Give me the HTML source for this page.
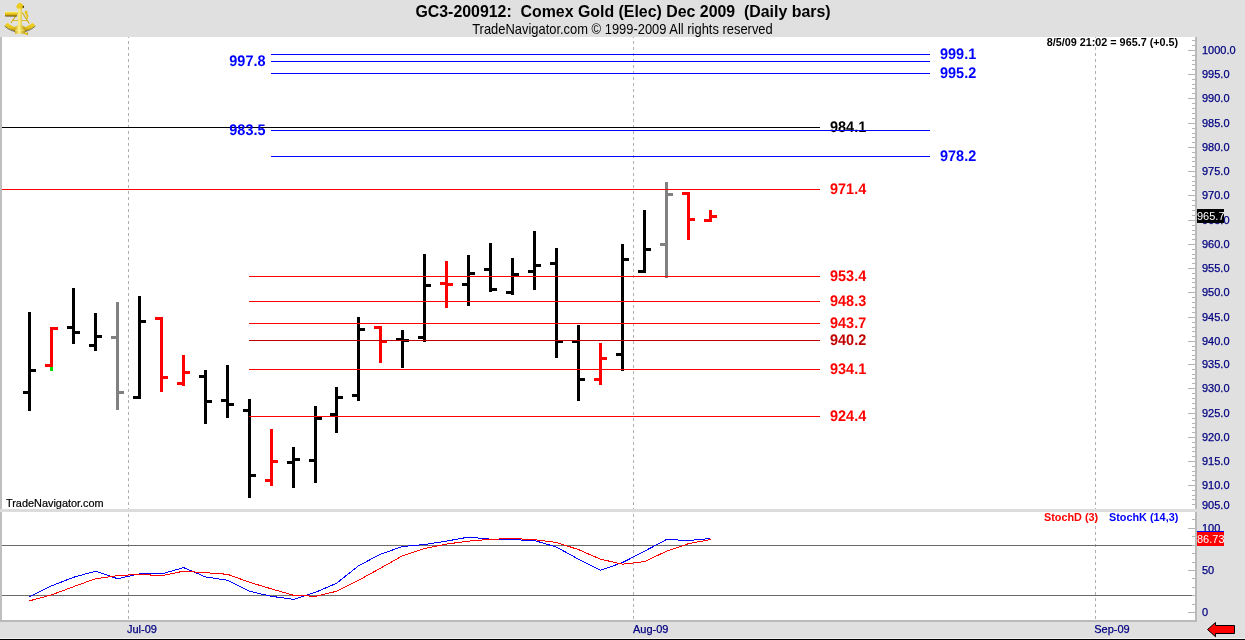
<!DOCTYPE html>
<html><head><meta charset="utf-8"><title>GC3-200912 Comex Gold</title>
<style>
html,body{margin:0;padding:0}
body{width:1245px;height:640px;overflow:hidden;background:#e0e0e0;position:relative;font-family:"Liberation Sans",sans-serif;}
.abs{position:absolute}
#main{position:absolute;left:0;top:37px;width:1195px;height:472px;background:#fff}
#sto{position:absolute;left:0;top:512px;width:1195px;height:108px;background:#fff}
#lb1{position:absolute;left:0;top:37px;width:2px;height:472px;background:#bebebe}
#lb2{position:absolute;left:0;top:512px;width:2px;height:110px;background:#bebebe}
#rb{position:absolute;left:1195px;top:37px;width:2px;height:585px;background:#bababa}
#bb{position:absolute;left:0;top:620px;width:1197px;height:2px;background:#bababa}
#sep{position:absolute;left:0;top:509px;width:1197px;height:3px;background:#dcdcdc;z-index:2}
#blk{position:absolute;left:0;top:638px;width:1245px;height:1px;background:#f2f2f2;border-bottom:1px solid #000}
#g{position:absolute;left:0;top:0}
.title{position:absolute;left:0;width:1245px;text-align:center;white-space:pre;color:#000}
#t1{top:2px;left:0.5px;font-weight:bold;font-size:15.9px;line-height:20px}
#t2{top:21px;font-size:13.9px;line-height:16px;transform:scaleX(.93);transform-origin:622px center}
.ax{position:absolute;left:1202px;font-size:11px;line-height:14px;color:#000080;white-space:nowrap;-webkit-text-stroke:0.25px #000080}
.ll{position:absolute;font-weight:bold;font-size:15.4px;line-height:18px;white-space:nowrap;text-rendering:geometricPrecision;transform:scaleX(.94);transform-origin:left center}
.ll.r{transform-origin:right center}
.sm{position:absolute;font-weight:bold;font-size:10.85px;line-height:12px;white-space:nowrap}
.mo{position:absolute;font-size:11px;line-height:14px;color:#000080;top:622px;-webkit-text-stroke:0.25px #000080}
.box{position:absolute;left:1197px;width:27px;color:#fff;font-size:11px;line-height:14px;height:14px;white-space:nowrap;overflow:hidden}
.logo{position:absolute;left:0;top:0}
</style></head><body>
<div id="main"></div><div id="sto"></div>
<div id="lb1"></div><div id="lb2"></div><div id="sep"></div><div id="rb"></div><div id="bb"></div><div id="blk"></div>
<svg class="logo" width="44" height="37" viewBox="0 0 44 37">
<defs><linearGradient id="tg" x1="0" y1="0" x2="0" y2="1"><stop offset="0" stop-color="#fffbc0"/><stop offset=".25" stop-color="#f4d92e"/><stop offset=".65" stop-color="#d6b012"/><stop offset="1" stop-color="#4e3a00"/></linearGradient>
<linearGradient id="ag" x1="0" y1="0" x2="1" y2="0"><stop offset="0" stop-color="#cfa80e"/><stop offset=".4" stop-color="#fff48c"/><stop offset="1" stop-color="#bd9706"/></linearGradient>
<linearGradient id="rg" x1="0" y1="0" x2="0" y2="1"><stop offset="0" stop-color="#f3d62c"/><stop offset=".6" stop-color="#e4c01a"/><stop offset="1" stop-color="#7c5f00"/></linearGradient></defs>
<g stroke="#d4b010" stroke-width="1.2" fill="none"><path d="M17.6 13 L11 23 M22.2 12.5 L29.3 23.5 M12.3 20.8 H27.4"/></g>
<path d="M12.5 21.8 H27" stroke="#f4f4ff" stroke-width=".8" fill="none"/>
<path d="M4.4 25.4 A22.3 22.3 0 0 0 35.6 25.4 L32.4 22.7 A18.3 18.3 0 0 1 7.6 22.7Z" fill="url(#rg)"/>
<path d="M4.8 26.2 A22.3 22.3 0 0 0 35.2 26.2" stroke="#3a2c00" stroke-width="1" fill="none" opacity=".6"/>
<rect x="5" y="11.4" width="12.2" height="5.2" rx=".8" fill="url(#tg)"/>
<path d="M17.9 8 L21.9 8 L21.9 25 L25 27 L25 33.8 L15 33.8 L15 27 L17.9 25Z" fill="url(#ag)"/>
<path d="M15.2 30.2 H24.8" stroke="#fff6a8" stroke-width=".8" opacity=".8"/>
<path d="M16.2 6.4 L17.6 4 L20 2.8 L22.4 4 L24 6.4 L23 8.6 L17 8.6Z" fill="#ecca20"/>
<path d="M22.8 5.6 L24.2 6.2 L23.6 8 L22.6 8Z" fill="#3c2e00"/>
<path d="M24.6 11.6 L26 10.4 L27.6 11 L27.2 13 L28.4 15.4 L28 18.8 L26.6 18.2 L26.4 15.6 L24.9 13.6Z" fill="#e6c41c"/>
<path d="M25 32.6 H27.9 V34.8 H25Z" fill="#e6c41c"/><path d="M27.3 32.6 H27.9 V34.8 H27.3Z" fill="#a88400"/>
</svg>
<div class="title" id="t1">GC3-200912:  Comex Gold (Elec) Dec 2009  (Daily bars)</div>
<div class="title" id="t2">TradeNavigator.com © 1999-2009 All rights reserved</div>
<svg id="g" width="1245" height="640" viewBox="0 0 1245 640" shape-rendering="crispEdges">
<line x1="128.5" y1="37" x2="128.5" y2="398" stroke="#b0b0b0" stroke-dasharray="3,3" stroke-dashoffset="2"/>
<line x1="128.5" y1="400" x2="128.5" y2="509" stroke="#b0b0b0" stroke-dasharray="3,3"/>
<line x1="128.5" y1="512" x2="128.5" y2="620" stroke="#b0b0b0" stroke-dasharray="3,3" stroke-dashoffset="4"/>
<line x1="633.5" y1="37" x2="633.5" y2="398" stroke="#b0b0b0" stroke-dasharray="3,3" stroke-dashoffset="2"/>
<line x1="633.5" y1="400" x2="633.5" y2="509" stroke="#b0b0b0" stroke-dasharray="3,3"/>
<line x1="633.5" y1="512" x2="633.5" y2="620" stroke="#b0b0b0" stroke-dasharray="3,3" stroke-dashoffset="4"/>
<line x1="1095.5" y1="37" x2="1095.5" y2="398" stroke="#b0b0b0" stroke-dasharray="3,3" stroke-dashoffset="2"/>
<line x1="1095.5" y1="400" x2="1095.5" y2="509" stroke="#b0b0b0" stroke-dasharray="3,3"/>
<line x1="1095.5" y1="512" x2="1095.5" y2="620" stroke="#b0b0b0" stroke-dasharray="3,3" stroke-dashoffset="4"/>
<rect x="28" y="312" width="3" height="99" fill="#000"/>
<rect x="23" y="391" width="5" height="3" fill="#000"/>
<rect x="31" y="369" width="5" height="3" fill="#000"/>
<rect x="50" y="327" width="3" height="43" fill="#f00"/>
<rect x="45" y="364" width="5" height="3" fill="#f00"/>
<rect x="53" y="327" width="5" height="3" fill="#f00"/>
<rect x="72" y="288" width="3" height="56" fill="#000"/>
<rect x="67" y="326" width="5" height="3" fill="#000"/>
<rect x="75" y="331" width="5" height="3" fill="#000"/>
<rect x="94" y="313" width="3" height="38" fill="#000"/>
<rect x="89" y="344" width="5" height="3" fill="#000"/>
<rect x="97" y="335" width="5" height="3" fill="#000"/>
<rect x="116" y="302" width="3" height="108" fill="#808080"/>
<rect x="111" y="336" width="5" height="3" fill="#808080"/>
<rect x="119" y="391" width="5" height="3" fill="#808080"/>
<rect x="138" y="296" width="3" height="103" fill="#000"/>
<rect x="133" y="396" width="5" height="3" fill="#000"/>
<rect x="141" y="320" width="5" height="3" fill="#000"/>
<rect x="160" y="317" width="3" height="75" fill="#f00"/>
<rect x="155" y="317" width="5" height="3" fill="#f00"/>
<rect x="163" y="376" width="5" height="3" fill="#f00"/>
<rect x="182" y="355" width="3" height="31" fill="#f00"/>
<rect x="177" y="382" width="5" height="3" fill="#f00"/>
<rect x="185" y="371" width="5" height="3" fill="#f00"/>
<rect x="204" y="370" width="3" height="54" fill="#000"/>
<rect x="199" y="375" width="5" height="3" fill="#000"/>
<rect x="207" y="400" width="5" height="3" fill="#000"/>
<rect x="226" y="365" width="3" height="53" fill="#000"/>
<rect x="221" y="399" width="5" height="3" fill="#000"/>
<rect x="229" y="403" width="5" height="3" fill="#000"/>
<rect x="248" y="399" width="3" height="99" fill="#000"/>
<rect x="243" y="409" width="5" height="3" fill="#000"/>
<rect x="251" y="474" width="5" height="3" fill="#000"/>
<rect x="270" y="429" width="3" height="57" fill="#f00"/>
<rect x="265" y="479" width="5" height="3" fill="#f00"/>
<rect x="273" y="460" width="5" height="3" fill="#f00"/>
<rect x="292" y="447" width="3" height="41" fill="#000"/>
<rect x="287" y="461" width="5" height="3" fill="#000"/>
<rect x="295" y="458" width="5" height="3" fill="#000"/>
<rect x="314" y="406" width="3" height="77" fill="#000"/>
<rect x="309" y="459" width="5" height="3" fill="#000"/>
<rect x="317" y="417" width="5" height="3" fill="#000"/>
<rect x="335" y="387" width="3" height="46" fill="#000"/>
<rect x="330" y="413" width="5" height="3" fill="#000"/>
<rect x="338" y="396" width="5" height="3" fill="#000"/>
<rect x="357" y="317" width="3" height="84" fill="#000"/>
<rect x="352" y="394" width="5" height="3" fill="#000"/>
<rect x="360" y="328" width="5" height="3" fill="#000"/>
<rect x="379" y="326" width="3" height="37" fill="#f00"/>
<rect x="374" y="326" width="5" height="3" fill="#f00"/>
<rect x="382" y="340" width="5" height="3" fill="#f00"/>
<rect x="401" y="330" width="3" height="38" fill="#000"/>
<rect x="396" y="338" width="5" height="3" fill="#000"/>
<rect x="404" y="339" width="5" height="3" fill="#000"/>
<rect x="423" y="254" width="3" height="88" fill="#000"/>
<rect x="418" y="336" width="5" height="3" fill="#000"/>
<rect x="426" y="284" width="5" height="3" fill="#000"/>
<rect x="445" y="261" width="3" height="47" fill="#f00"/>
<rect x="440" y="282" width="5" height="3" fill="#f00"/>
<rect x="448" y="283" width="5" height="3" fill="#f00"/>
<rect x="467" y="255" width="3" height="51" fill="#000"/>
<rect x="462" y="283" width="5" height="3" fill="#000"/>
<rect x="470" y="272" width="5" height="3" fill="#000"/>
<rect x="489" y="243" width="3" height="49" fill="#000"/>
<rect x="484" y="268" width="5" height="3" fill="#000"/>
<rect x="492" y="288" width="5" height="3" fill="#000"/>
<rect x="511" y="258" width="3" height="37" fill="#000"/>
<rect x="506" y="291" width="5" height="3" fill="#000"/>
<rect x="514" y="273" width="5" height="3" fill="#000"/>
<rect x="533" y="231" width="3" height="59" fill="#000"/>
<rect x="528" y="270" width="5" height="3" fill="#000"/>
<rect x="536" y="264" width="5" height="3" fill="#000"/>
<rect x="555" y="248" width="3" height="110" fill="#000"/>
<rect x="550" y="262" width="5" height="3" fill="#000"/>
<rect x="558" y="340" width="5" height="3" fill="#000"/>
<rect x="577" y="325" width="3" height="76" fill="#000"/>
<rect x="572" y="340" width="5" height="3" fill="#000"/>
<rect x="580" y="378" width="5" height="3" fill="#000"/>
<rect x="599" y="343" width="3" height="42" fill="#f00"/>
<rect x="594" y="378" width="5" height="3" fill="#f00"/>
<rect x="602" y="357" width="5" height="3" fill="#f00"/>
<rect x="621" y="244" width="3" height="127" fill="#000"/>
<rect x="616" y="353" width="5" height="3" fill="#000"/>
<rect x="624" y="258" width="5" height="3" fill="#000"/>
<rect x="643" y="210" width="3" height="63" fill="#000"/>
<rect x="638" y="270" width="5" height="3" fill="#000"/>
<rect x="646" y="248" width="5" height="3" fill="#000"/>
<rect x="665" y="182" width="3" height="96" fill="#808080"/>
<rect x="660" y="243" width="5" height="3" fill="#808080"/>
<rect x="668" y="193" width="5" height="3" fill="#808080"/>
<rect x="687" y="192" width="3" height="48" fill="#f00"/>
<rect x="682" y="192" width="5" height="3" fill="#f00"/>
<rect x="690" y="218" width="5" height="3" fill="#f00"/>
<rect x="709" y="210" width="3" height="12" fill="#f00"/>
<rect x="704" y="219" width="5" height="3" fill="#f00"/>
<rect x="712" y="215" width="5" height="3" fill="#f00"/>
<rect x="50" y="367" width="3" height="4" fill="#00e000"/>
<rect x="2" y="127" width="818" height="1" fill="#000"/>
<rect x="271" y="54" width="659" height="1" fill="#0000ff"/>
<rect x="271" y="61" width="659" height="1" fill="#0000ff"/>
<rect x="271" y="73" width="659" height="1" fill="#0000ff"/>
<rect x="271" y="130" width="659" height="1" fill="#0000ff"/>
<rect x="271" y="156" width="659" height="1" fill="#0000ff"/>
<rect x="2" y="189" width="818" height="1" fill="#f00"/>
<rect x="249" y="276" width="571" height="1" fill="#f00"/>
<rect x="249" y="301" width="571" height="1" fill="#f00"/>
<rect x="249" y="323" width="571" height="1" fill="#f00"/>
<rect x="249" y="340" width="571" height="1" fill="#c00000"/>
<rect x="249" y="369" width="571" height="1" fill="#f00"/>
<rect x="249" y="416" width="571" height="1" fill="#f00"/>
<rect x="2" y="545" width="1190" height="1" fill="#6a6a6a"/>
<rect x="2" y="595" width="1190" height="1" fill="#6a6a6a"/>
<polyline points="29.5,596.7 51.5,585.9 73.5,577.3 95.5,571.2 117.5,578.7 139.5,573.9 161.5,573.9 183.5,567.6 205.5,576.9 227.5,580.3 249.5,591.3 271.5,596.3 293.5,599.4 315.5,592.3 336.5,583.3 358.5,565.8 380.5,554.2 402.5,546.5 424.5,544.5 446.5,541.1 468.5,537.1 490.5,539.1 512.5,539.7 534.5,540.5 556.5,547.1 578.5,559.2 600.5,570.2 622.5,562.6 644.5,551.2 666.5,539.5 688.5,540.5 710.5,538.5" fill="none" stroke="#0000ff" stroke-width="1" shape-rendering="crispEdges"/>
<polyline points="29.5,600.8 51.5,594.9 73.5,586.7 95.5,578.7 117.5,575.7 139.5,574.3 161.5,575.7 183.5,571.2 205.5,572.7 227.5,574.3 249.5,582.3 271.5,588.9 293.5,595.3 315.5,596.3 336.5,591.3 358.5,580.3 380.5,568.2 402.5,555.8 424.5,548.6 446.5,544.1 468.5,541.1 490.5,539.3 512.5,538.5 534.5,539.7 556.5,542.5 578.5,549.6 600.5,559.2 622.5,564.2 644.5,561.6 666.5,551.2 688.5,543.7 710.5,539.5" fill="none" stroke="#ff0000" stroke-width="1" shape-rendering="crispEdges"/>
<rect x="1192" y="40" width="3" height="1" fill="#b4b4b4"/>
<rect x="1192" y="45" width="3" height="1" fill="#b4b4b4"/>
<rect x="1188" y="50" width="7" height="1" fill="#b4b4b4"/>
<rect x="1192" y="55" width="3" height="1" fill="#b4b4b4"/>
<rect x="1192" y="60" width="3" height="1" fill="#b4b4b4"/>
<rect x="1192" y="64" width="3" height="1" fill="#b4b4b4"/>
<rect x="1192" y="69" width="3" height="1" fill="#b4b4b4"/>
<rect x="1188" y="74" width="7" height="1" fill="#b4b4b4"/>
<rect x="1192" y="79" width="3" height="1" fill="#b4b4b4"/>
<rect x="1192" y="84" width="3" height="1" fill="#b4b4b4"/>
<rect x="1192" y="88" width="3" height="1" fill="#b4b4b4"/>
<rect x="1192" y="93" width="3" height="1" fill="#b4b4b4"/>
<rect x="1188" y="98" width="7" height="1" fill="#b4b4b4"/>
<rect x="1192" y="103" width="3" height="1" fill="#b4b4b4"/>
<rect x="1192" y="108" width="3" height="1" fill="#b4b4b4"/>
<rect x="1192" y="113" width="3" height="1" fill="#b4b4b4"/>
<rect x="1192" y="118" width="3" height="1" fill="#b4b4b4"/>
<rect x="1188" y="123" width="7" height="1" fill="#b4b4b4"/>
<rect x="1192" y="128" width="3" height="1" fill="#b4b4b4"/>
<rect x="1192" y="133" width="3" height="1" fill="#b4b4b4"/>
<rect x="1192" y="137" width="3" height="1" fill="#b4b4b4"/>
<rect x="1192" y="142" width="3" height="1" fill="#b4b4b4"/>
<rect x="1188" y="147" width="7" height="1" fill="#b4b4b4"/>
<rect x="1192" y="152" width="3" height="1" fill="#b4b4b4"/>
<rect x="1192" y="157" width="3" height="1" fill="#b4b4b4"/>
<rect x="1192" y="161" width="3" height="1" fill="#b4b4b4"/>
<rect x="1192" y="166" width="3" height="1" fill="#b4b4b4"/>
<rect x="1188" y="171" width="7" height="1" fill="#b4b4b4"/>
<rect x="1192" y="176" width="3" height="1" fill="#b4b4b4"/>
<rect x="1192" y="181" width="3" height="1" fill="#b4b4b4"/>
<rect x="1192" y="185" width="3" height="1" fill="#b4b4b4"/>
<rect x="1192" y="190" width="3" height="1" fill="#b4b4b4"/>
<rect x="1188" y="195" width="7" height="1" fill="#b4b4b4"/>
<rect x="1192" y="200" width="3" height="1" fill="#b4b4b4"/>
<rect x="1192" y="205" width="3" height="1" fill="#b4b4b4"/>
<rect x="1192" y="210" width="3" height="1" fill="#b4b4b4"/>
<rect x="1192" y="215" width="3" height="1" fill="#b4b4b4"/>
<rect x="1188" y="220" width="7" height="1" fill="#b4b4b4"/>
<rect x="1192" y="225" width="3" height="1" fill="#b4b4b4"/>
<rect x="1192" y="230" width="3" height="1" fill="#b4b4b4"/>
<rect x="1192" y="234" width="3" height="1" fill="#b4b4b4"/>
<rect x="1192" y="239" width="3" height="1" fill="#b4b4b4"/>
<rect x="1188" y="244" width="7" height="1" fill="#b4b4b4"/>
<rect x="1192" y="249" width="3" height="1" fill="#b4b4b4"/>
<rect x="1192" y="254" width="3" height="1" fill="#b4b4b4"/>
<rect x="1192" y="258" width="3" height="1" fill="#b4b4b4"/>
<rect x="1192" y="263" width="3" height="1" fill="#b4b4b4"/>
<rect x="1188" y="268" width="7" height="1" fill="#b4b4b4"/>
<rect x="1192" y="273" width="3" height="1" fill="#b4b4b4"/>
<rect x="1192" y="278" width="3" height="1" fill="#b4b4b4"/>
<rect x="1192" y="282" width="3" height="1" fill="#b4b4b4"/>
<rect x="1192" y="287" width="3" height="1" fill="#b4b4b4"/>
<rect x="1188" y="292" width="7" height="1" fill="#b4b4b4"/>
<rect x="1192" y="297" width="3" height="1" fill="#b4b4b4"/>
<rect x="1192" y="302" width="3" height="1" fill="#b4b4b4"/>
<rect x="1192" y="307" width="3" height="1" fill="#b4b4b4"/>
<rect x="1192" y="312" width="3" height="1" fill="#b4b4b4"/>
<rect x="1188" y="317" width="7" height="1" fill="#b4b4b4"/>
<rect x="1192" y="322" width="3" height="1" fill="#b4b4b4"/>
<rect x="1192" y="327" width="3" height="1" fill="#b4b4b4"/>
<rect x="1192" y="331" width="3" height="1" fill="#b4b4b4"/>
<rect x="1192" y="336" width="3" height="1" fill="#b4b4b4"/>
<rect x="1188" y="341" width="7" height="1" fill="#b4b4b4"/>
<rect x="1192" y="346" width="3" height="1" fill="#b4b4b4"/>
<rect x="1192" y="350" width="3" height="1" fill="#b4b4b4"/>
<rect x="1192" y="355" width="3" height="1" fill="#b4b4b4"/>
<rect x="1192" y="359" width="3" height="1" fill="#b4b4b4"/>
<rect x="1188" y="364" width="7" height="1" fill="#b4b4b4"/>
<rect x="1192" y="369" width="3" height="1" fill="#b4b4b4"/>
<rect x="1192" y="374" width="3" height="1" fill="#b4b4b4"/>
<rect x="1192" y="378" width="3" height="1" fill="#b4b4b4"/>
<rect x="1192" y="383" width="3" height="1" fill="#b4b4b4"/>
<rect x="1188" y="388" width="7" height="1" fill="#b4b4b4"/>
<rect x="1192" y="393" width="3" height="1" fill="#b4b4b4"/>
<rect x="1192" y="398" width="3" height="1" fill="#b4b4b4"/>
<rect x="1192" y="403" width="3" height="1" fill="#b4b4b4"/>
<rect x="1192" y="408" width="3" height="1" fill="#b4b4b4"/>
<rect x="1188" y="413" width="7" height="1" fill="#b4b4b4"/>
<rect x="1192" y="418" width="3" height="1" fill="#b4b4b4"/>
<rect x="1192" y="423" width="3" height="1" fill="#b4b4b4"/>
<rect x="1192" y="427" width="3" height="1" fill="#b4b4b4"/>
<rect x="1192" y="432" width="3" height="1" fill="#b4b4b4"/>
<rect x="1188" y="437" width="7" height="1" fill="#b4b4b4"/>
<rect x="1192" y="442" width="3" height="1" fill="#b4b4b4"/>
<rect x="1192" y="447" width="3" height="1" fill="#b4b4b4"/>
<rect x="1192" y="451" width="3" height="1" fill="#b4b4b4"/>
<rect x="1192" y="456" width="3" height="1" fill="#b4b4b4"/>
<rect x="1188" y="461" width="7" height="1" fill="#b4b4b4"/>
<rect x="1192" y="466" width="3" height="1" fill="#b4b4b4"/>
<rect x="1192" y="471" width="3" height="1" fill="#b4b4b4"/>
<rect x="1192" y="475" width="3" height="1" fill="#b4b4b4"/>
<rect x="1192" y="480" width="3" height="1" fill="#b4b4b4"/>
<rect x="1188" y="485" width="7" height="1" fill="#b4b4b4"/>
<rect x="1192" y="490" width="3" height="1" fill="#b4b4b4"/>
<rect x="1192" y="495" width="3" height="1" fill="#b4b4b4"/>
<rect x="1192" y="499" width="3" height="1" fill="#b4b4b4"/>
<rect x="1192" y="504" width="3" height="1" fill="#b4b4b4"/>
<rect x="1192" y="519" width="3" height="1" fill="#b4b4b4"/>
<rect x="1188" y="528" width="7" height="1" fill="#b4b4b4"/>
<rect x="1192" y="536" width="3" height="1" fill="#b4b4b4"/>
<rect x="1192" y="545" width="3" height="1" fill="#b4b4b4"/>
<rect x="1192" y="553" width="3" height="1" fill="#b4b4b4"/>
<rect x="1192" y="562" width="3" height="1" fill="#b4b4b4"/>
<rect x="1188" y="570" width="7" height="1" fill="#b4b4b4"/>
<rect x="1192" y="578" width="3" height="1" fill="#b4b4b4"/>
<rect x="1192" y="587" width="3" height="1" fill="#b4b4b4"/>
<rect x="1192" y="595" width="3" height="1" fill="#b4b4b4"/>
<rect x="1192" y="604" width="3" height="1" fill="#b4b4b4"/>
<rect x="1188" y="612" width="7" height="1" fill="#b4b4b4"/>
<path d="M1207.5 629.5 L1215.5 622.5 L1215.5 625.5 L1234.5 625.5 L1234.5 633.5 L1215.5 633.5 L1215.5 636.7Z" fill="#f00" stroke="#000" stroke-width="1" shape-rendering="auto"/>
</svg>
<div class="ax" style="top:43px">1000.0</div>
<div class="ax" style="top:67px">995.0</div>
<div class="ax" style="top:91px">990.0</div>
<div class="ax" style="top:116px">985.0</div>
<div class="ax" style="top:140px">980.0</div>
<div class="ax" style="top:164px">975.0</div>
<div class="ax" style="top:188px">970.0</div>
<div class="ax" style="top:213px">965.0</div>
<div class="ax" style="top:237px">960.0</div>
<div class="ax" style="top:261px">955.0</div>
<div class="ax" style="top:285px">950.0</div>
<div class="ax" style="top:310px">945.0</div>
<div class="ax" style="top:334px">940.0</div>
<div class="ax" style="top:357px">935.0</div>
<div class="ax" style="top:381px">930.0</div>
<div class="ax" style="top:406px">925.0</div>
<div class="ax" style="top:430px">920.0</div>
<div class="ax" style="top:454px">915.0</div>
<div class="ax" style="top:478px">910.0</div>
<div class="ax" style="top:498px">905.0</div>
<div class="ax" style="top:521px">100</div>
<div class="ax" style="top:563px">50</div>
<div class="ax" style="top:605px">0</div>
<div class="ll r" style="right:979.2px;top:53px;color:#0000ff">997.8</div>
<div class="ll r" style="right:979.2px;top:122px;color:#0000ff">983.5</div>
<div class="ll" style="left:939.5px;top:46px;color:#0000ff">999.1</div>
<div class="ll" style="left:939.5px;top:65px;color:#0000ff">995.2</div>
<div class="ll" style="left:939.5px;top:148px;color:#0000ff">978.2</div>
<div class="ll" style="left:830px;top:119px;color:#000">984.1</div>
<div class="ll" style="left:830px;top:181px;color:#f00">971.4</div>
<div class="abs" style="left:826px;top:130px;width:44px;height:1px;background:#00f;z-index:5"></div>
<div class="ll" style="left:830px;top:268px;color:#f00">953.4</div>
<div class="ll" style="left:830px;top:293px;color:#f00">948.3</div>
<div class="ll" style="left:830px;top:315px;color:#f00">943.7</div>
<div class="ll" style="left:830px;top:332px;color:#c00000">940.2</div>
<div class="ll" style="left:830px;top:361px;color:#f00">934.1</div>
<div class="ll" style="left:830px;top:408px;color:#f00">924.4</div>
<div class="sm" style="left:1046.7px;top:36px;color:#000;font-size:10.8px">8/5/09 21:02 = 965.7 (+0.5)</div>
<div class="sm" style="left:1044px;top:511px;color:#f00">StochD (3)</div>
<div class="sm" style="left:1109px;top:511px;color:#00f">StochK (14,3)</div>
<div class="abs" style="left:6px;top:496px;font-size:10.9px;line-height:14px;color:#000;-webkit-text-stroke:0.2px #000">TradeNavigator.com</div>
<div class="mo" style="left:127px">Jul-09</div>
<div class="mo" style="left:633px">Aug-09</div>
<div class="mo" style="left:1094.2px">Sep-09</div>
<div class="box" style="top:209px;background:#000">965.7</div>
<div class="abs" style="left:1197px;top:531px;width:27px;height:1px;background:#00f"></div>
<div class="box" style="top:532px;background:#f00">86.73</div>
</body></html>
